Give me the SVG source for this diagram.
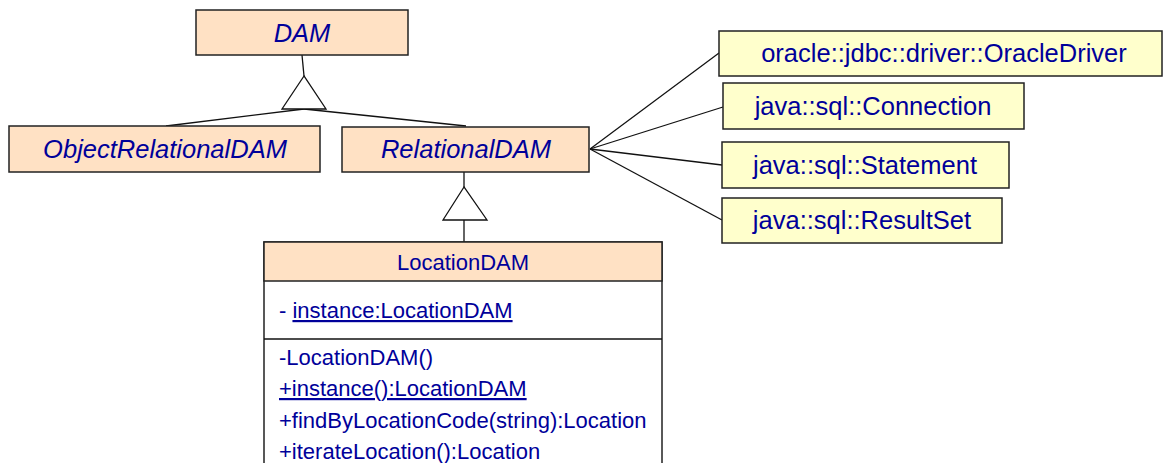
<svg xmlns="http://www.w3.org/2000/svg" width="1163" height="463" viewBox="0 0 1163 463">
<style>
.cls{fill:#FFE1C4;stroke:#222;stroke-width:1.5}
.ext{fill:#FFFFCC;stroke:#222;stroke-width:1.5}
.plain{fill:#fff;stroke:#222;stroke-width:1.5}
text{font-family:"Liberation Sans",Arial,sans-serif;fill:#00009A}
.big{font-size:25.5px}
.it{font-style:italic}
.mid{text-anchor:middle}
.sm{font-size:22px}
.u{text-decoration:underline}
.con{stroke:#111;stroke-width:1.3;fill:none}
.tri{stroke:#111;stroke-width:1.3;fill:#fff}
</style>
<rect width="1163" height="463" fill="#fff"/>
<g id="connectors">
<line class="con" x1="302" y1="55" x2="304" y2="76"/>
<line class="con" x1="304" y1="109" x2="166" y2="126"/>
<line class="con" x1="304" y1="109" x2="466" y2="126"/>
<polygon class="tri" points="304,76 282,109 326,109"/>
<line class="con" x1="464" y1="172" x2="464" y2="187"/>
<line class="con" x1="464" y1="220" x2="464" y2="242"/>
<polygon class="tri" points="464,187 443,220 487,220"/>
<line class="con" x1="590" y1="149" x2="719" y2="53"/>
<line class="con" x1="590" y1="149" x2="723" y2="107"/>
<line class="con" x1="590" y1="149" x2="722" y2="165"/>
<line class="con" x1="590" y1="149" x2="722" y2="220"/>
</g>
<g id="DAM">
<rect class="cls" x="196" y="10" width="212" height="45"/>
<text class="big it mid" x="302" y="42">DAM</text>
</g>
<g id="ObjectRelationalDAM">
<rect class="cls" x="9" y="126" width="311" height="46"/>
<text class="big it mid" x="165" y="158">ObjectRelationalDAM</text>
</g>
<g id="RelationalDAM">
<rect class="cls" x="342" y="127" width="247" height="45"/>
<text class="big it mid" x="466" y="158">RelationalDAM</text>
</g>
<g id="OracleDriver">
<rect class="ext" x="719" y="31" width="443" height="45"/>
<text class="big mid" x="944" y="62">oracle::jdbc::driver::OracleDriver</text>
</g>
<g id="Connection">
<rect class="ext" x="723" y="83" width="301" height="46"/>
<text class="big mid" x="873" y="115">java::sql::Connection</text>
</g>
<g id="Statement">
<rect class="ext" x="722" y="142" width="287" height="46"/>
<text class="big mid" x="865" y="174">java::sql::Statement</text>
</g>
<g id="ResultSet">
<rect class="ext" x="722" y="198" width="280" height="45"/>
<text class="big mid" x="862" y="229">java::sql::ResultSet</text>
</g>
<g id="LocationDAM">
<rect class="plain" x="264" y="242" width="398" height="240"/>
<rect class="cls" x="264" y="242" width="398" height="39"/>
<line class="con" x1="264" y1="339" x2="662" y2="339"/>
<text class="sm mid" x="463" y="270">LocationDAM</text>
<text class="sm" x="279" y="318">- <tspan class="u">instance:LocationDAM</tspan></text>
<text class="sm" x="279" y="365">-LocationDAM()</text>
<text class="sm u" x="279" y="396">+instance():LocationDAM</text>
<text class="sm" x="279" y="428">+findByLocationCode(string):Location</text>
<text class="sm" x="279" y="459">+iterateLocation():Location</text>
</g>
</svg>
